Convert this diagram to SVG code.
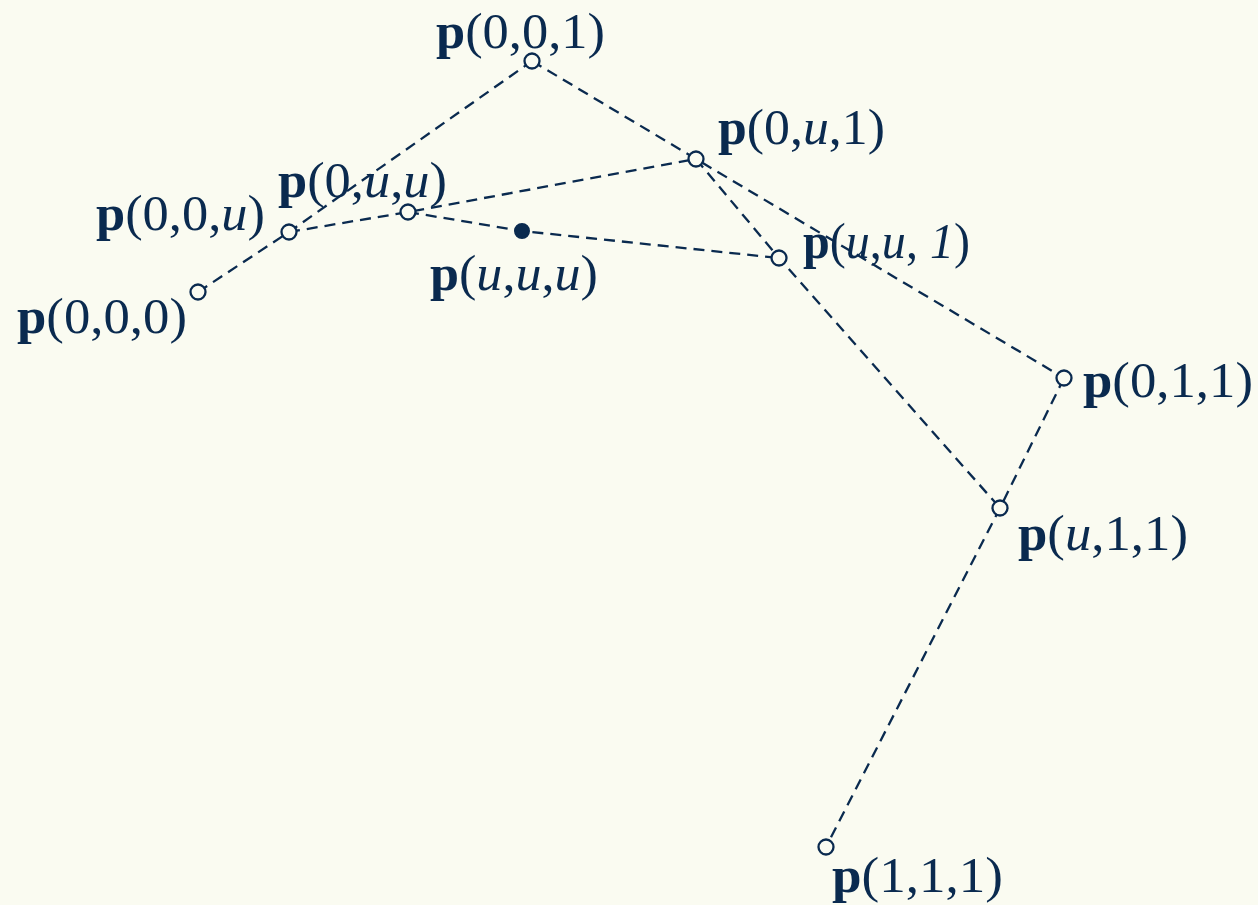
<svg xmlns="http://www.w3.org/2000/svg" width="1258" height="905" viewBox="0 0 1258 905">
<style>
.bg{fill:#fafbf1}
.ln{fill:none;stroke:#0a2a4f;stroke-width:2.3;stroke-dasharray:11 7}
.pt{fill:#fafbf1;stroke:#0a2a4f;stroke-width:2.3}
.pf{fill:#0a2a4f;stroke:#0a2a4f;stroke-width:2}
.lb{font-size:50px;fill:#0a2a4f}
.b{font-weight:bold}
.i{font-style:italic}
</style>
<rect class="bg" x="0" y="0" width="1258" height="905"/>
<g id="connectors">
<polyline class="ln" points="198,292 289,232 532,61"/>
<polyline class="ln" points="532,61 696,159 1064,378"/>
<polyline class="ln" points="1064,378 1000,508 826,847"/>
<polyline class="ln" points="289,232 408,212 696,159"/>
<polyline class="ln" points="696,159 779,258 1000,508"/>
<polyline class="ln" points="408,212 522,231 779,258"/>
</g>
<g font-family="'Liberation Serif', 'Times New Roman', Times, serif">
<g id="p000"><circle class="pt" cx="198" cy="292" r="7.5"/><text class="lb" x="17" y="333" textLength="170" lengthAdjust="spacingAndGlyphs"><tspan class="b">p</tspan>(0,0,0)</text></g>
<g id="p00u"><circle class="pt" cx="289" cy="232" r="7.5"/><text class="lb" x="96" y="230" textLength="169" lengthAdjust="spacingAndGlyphs"><tspan class="b">p</tspan>(0,0,<tspan class="i">u</tspan>)</text></g>
<g id="p0uu"><circle class="pt" cx="408" cy="212" r="7.5"/><text class="lb" x="278" y="197" textLength="169" lengthAdjust="spacingAndGlyphs"><tspan class="b">p</tspan>(0,<tspan class="i">u</tspan>,<tspan class="i">u</tspan>)</text></g>
<g id="p001"><circle class="pt" cx="532" cy="61" r="7.5"/><text class="lb" x="436" y="48" textLength="169" lengthAdjust="spacingAndGlyphs"><tspan class="b">p</tspan>(0,0,1)</text></g>
<g id="p0u1"><circle class="pt" cx="696" cy="159" r="7.5"/><text class="lb" x="718" y="144" textLength="167" lengthAdjust="spacingAndGlyphs"><tspan class="b">p</tspan>(0,<tspan class="i">u</tspan>,1)</text></g>
<g id="puuu"><circle class="pf" cx="522" cy="231" r="7"/><text class="lb" x="430" y="290" textLength="168" lengthAdjust="spacingAndGlyphs"><tspan class="b">p</tspan>(<tspan class="i">u</tspan>,<tspan class="i">u</tspan>,<tspan class="i">u</tspan>)</text></g>
<g id="puu1"><circle class="pt" cx="779" cy="258" r="7.5"/><text class="lb" x="803" y="258" textLength="167" lengthAdjust="spacingAndGlyphs"><tspan class="b">p</tspan>(<tspan class="i">u</tspan>,<tspan class="i">u</tspan>, <tspan class="i">1</tspan>)</text></g>
<g id="p011"><circle class="pt" cx="1064" cy="378" r="7.5"/><text class="lb" x="1083" y="397" textLength="170" lengthAdjust="spacingAndGlyphs"><tspan class="b">p</tspan>(0,1,1)</text></g>
<g id="pu11"><circle class="pt" cx="1000" cy="508" r="7.5"/><text class="lb" x="1018" y="550" textLength="170" lengthAdjust="spacingAndGlyphs"><tspan class="b">p</tspan>(<tspan class="i">u</tspan>,1,1)</text></g>
<g id="p111"><circle class="pt" cx="826" cy="847" r="7.5"/><text class="lb" x="832" y="892" textLength="171" lengthAdjust="spacingAndGlyphs"><tspan class="b">p</tspan>(1,1,1)</text></g>
</g>
</svg>
